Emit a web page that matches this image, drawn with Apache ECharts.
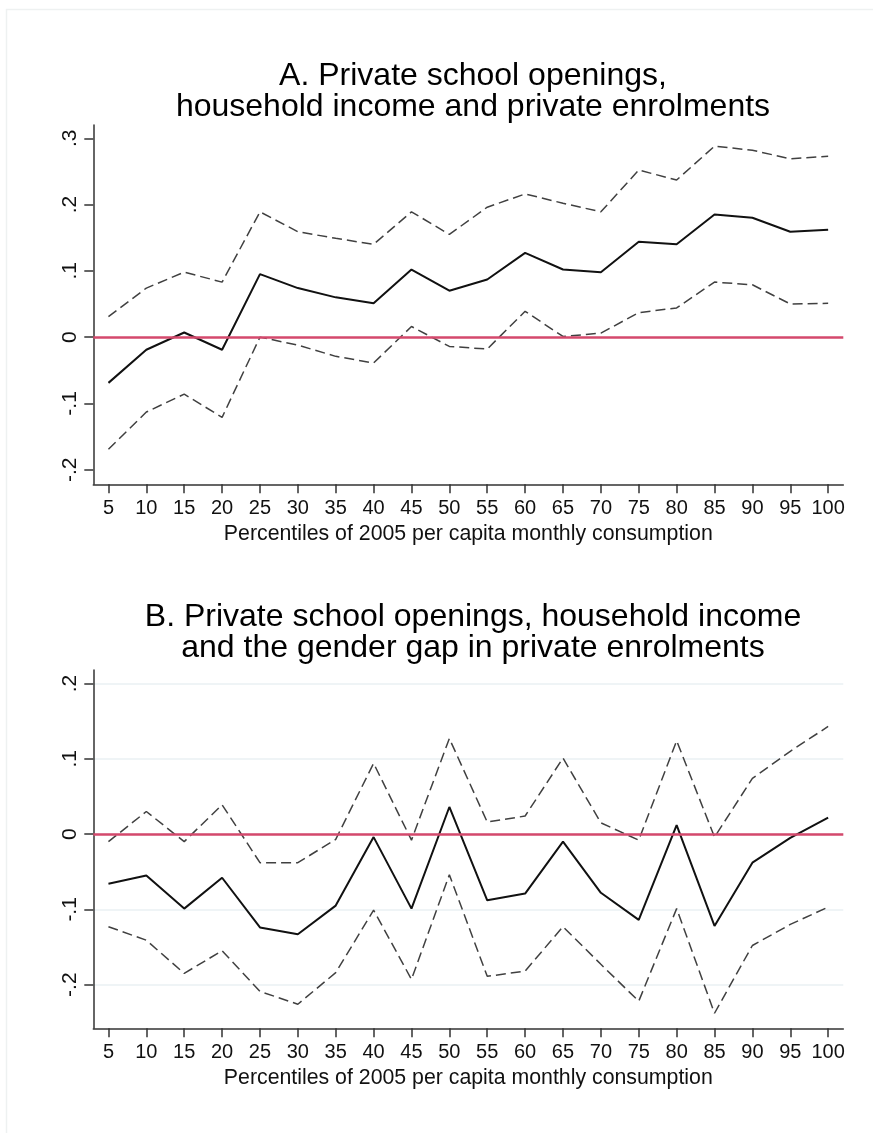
<!DOCTYPE html>
<html>
<head>
<meta charset="utf-8">
<script src="https://cdn.jsdelivr.net/npm/echarts@6/dist/echarts.min.js"></script>
<style>
  html, body { margin: 0; padding: 0; background: #ffffff; }
  #chart { width: 873px; height: 1133px; }
</style>
</head>
<body>
<div id="chart"></div>
<script>
// Percentile bins of 2005 per capita monthly consumption
const pctiles = [5, 10, 15, 20, 25, 30, 35, 40, 45, 50, 55, 60, 65, 70, 75, 80, 85, 90, 95, 100];

// Panel A: effect on private enrolments, with 95% bounds
const estA   = [-0.069, -0.019, 0.007, -0.019, 0.095, 0.074, 0.060, 0.051, 0.102, 0.070,
                0.087, 0.127, 0.102, 0.098, 0.144, 0.140, 0.185, 0.180, 0.159, 0.162];
const upperA = [0.031, 0.074, 0.098, 0.083, 0.189, 0.159, 0.149, 0.140, 0.189, 0.155,
                0.196, 0.216, 0.202, 0.189, 0.252, 0.237, 0.288, 0.282, 0.269, 0.273];
const lowerA = [-0.169, -0.113, -0.086, -0.121, 0.000, -0.012, -0.029, -0.039, 0.016, -0.014,
                -0.018, 0.039, 0.001, 0.006, 0.037, 0.044, 0.083, 0.079, 0.050, 0.051];

// Panel B: effect on the gender gap in private enrolments, with 95% bounds
const estB   = [-0.066, -0.055, -0.099, -0.058, -0.124, -0.133, -0.095, -0.004, -0.099, 0.036,
                -0.088, -0.079, -0.010, -0.078, -0.114, 0.012, -0.122, -0.038, -0.005, 0.022];
const upperB = [-0.010, 0.030, -0.010, 0.039, -0.038, -0.038, -0.007, 0.094, -0.008, 0.127,
                0.016, 0.024, 0.101, 0.015, -0.008, 0.124, -0.004, 0.074, 0.110, 0.143];
const lowerB = [-0.123, -0.141, -0.185, -0.155, -0.209, -0.226, -0.184, -0.101, -0.193, -0.054,
                -0.189, -0.182, -0.123, -0.173, -0.222, -0.099, -0.238, -0.148, -0.120, -0.097];

// Axis tick values
const xTicks  = pctiles.slice();
const yTicksA = [-0.2, -0.1, 0, 0.1, 0.2, 0.3];
const yTicksB = [-0.2, -0.1, 0, 0.1, 0.2];

const titleA = 'A. Private school openings,\nhousehold income and private enrolments';
const titleB = 'B. Private school openings, household income\nand the gender gap in private enrolments';
const xTitle = 'Percentiles of 2005 per capita monthly consumption';

const FONT = '"Liberation Sans", Arial, Helvetica, sans-serif';
const AXIS_COLOR = '#333333';
const ZERO_COLOR = '#d4496c';

// Stata-style decimal labels: .3, -.2, 0
function stataNum(v) {
  if (v === 0) return '0';
  const s = String(Math.abs(Math.round(v * 10) / 10)).replace(/^0/, '');
  return (v < 0 ? '-' : '') + s;
}

function pairs(vals) {
  return pctiles.map((p, i) => [p, vals[i]]);
}

function makeX(gridIndex) {
  return {
    type: 'value', gridIndex, min: 3, max: 102,
    name: xTitle, nameLocation: 'middle', nameGap: 39,
    nameTextStyle: { fontFamily: FONT, fontSize: 21.3, color: '#111111' },
    axisLine: { show: true, onZero: false, lineStyle: { color: AXIS_COLOR, width: 1.5 } },
    axisTick: { show: true, length: 9, customValues: xTicks, lineStyle: { color: AXIS_COLOR, width: 1.5 } },
    axisLabel: { customValues: xTicks, margin: 14, fontFamily: FONT, fontSize: 20, color: '#111111' },
    splitLine: { show: false }
  };
}

function makeY(gridIndex, min, max, ticks, grid) {
  return {
    type: 'value', gridIndex, min, max,
    axisLine: { show: true, onZero: false, lineStyle: { color: AXIS_COLOR, width: 1.5 } },
    axisTick: { show: true, length: 9, customValues: ticks, lineStyle: { color: AXIS_COLOR, width: 1.5 } },
    axisLabel: {
      customValues: ticks, rotate: 90, margin: 13,
      fontFamily: FONT, fontSize: 21, color: '#111111',
      formatter: stataNum
    },
    splitLine: { show: grid, lineStyle: { color: '#eaf0f3', width: 1.5 } }
  };
}

function panelSeries(idx, est, upper, lower) {
  const dashed = { color: '#404040', width: 1.5, type: [10, 5] };
  return [
    {
      type: 'line', xAxisIndex: idx, yAxisIndex: idx, data: pairs(upper),
      symbol: 'none', lineStyle: dashed, z: 3,
      markLine: {
        silent: true, symbol: 'none', label: { show: false },
        lineStyle: { color: ZERO_COLOR, width: 2.5, type: 'solid' },
        data: [{ yAxis: 0 }]
      }
    },
    {
      type: 'line', xAxisIndex: idx, yAxisIndex: idx, data: pairs(lower),
      symbol: 'none', lineStyle: dashed, z: 3
    },
    {
      type: 'line', xAxisIndex: idx, yAxisIndex: idx, data: pairs(est),
      symbol: 'none', lineStyle: { color: '#111111', width: 2 }, z: 4
    }
  ];
}

const chart = echarts.init(document.getElementById('chart'), null, { renderer: 'canvas' });

chart.setOption({
  animation: false,
  backgroundColor: '#ffffff',
  textStyle: { fontFamily: FONT },
  title: [
    {
      text: titleA, left: 468, top: 56, textAlign: 'center',
      textStyle: { fontFamily: FONT, fontSize: 32, fontWeight: 'normal', color: '#000000', lineHeight: 31 }
    },
    {
      text: titleB, left: 468, top: 597, textAlign: 'center',
      textStyle: { fontFamily: FONT, fontSize: 32, fontWeight: 'normal', color: '#000000', lineHeight: 31 }
    }
  ],
  graphic: [
    {
      type: 'rect', silent: true, z: -10,
      shape: { x: 6.5, y: 9.5, width: 900, height: 1200 },
      style: { fill: 'none', stroke: '#eef1f1', lineWidth: 1.5 }
    }
  ],
  grid: [
    { left: 93.3, top: 125, width: 750, height: 359.3, containLabel: false },
    { left: 93.3, top: 670, width: 750, height: 358.3, containLabel: false }
  ],
  xAxis: [makeX(0), makeX(1)],
  yAxis: [
    makeY(0, -0.222, 0.32, yTicksA, false),
    makeY(1, -0.258, 0.218, yTicksB, true)
  ],
  series: [
    ...panelSeries(0, estA, upperA, lowerA),
    ...panelSeries(1, estB, upperB, lowerB)
  ]
});
</script>
</body>
</html>
